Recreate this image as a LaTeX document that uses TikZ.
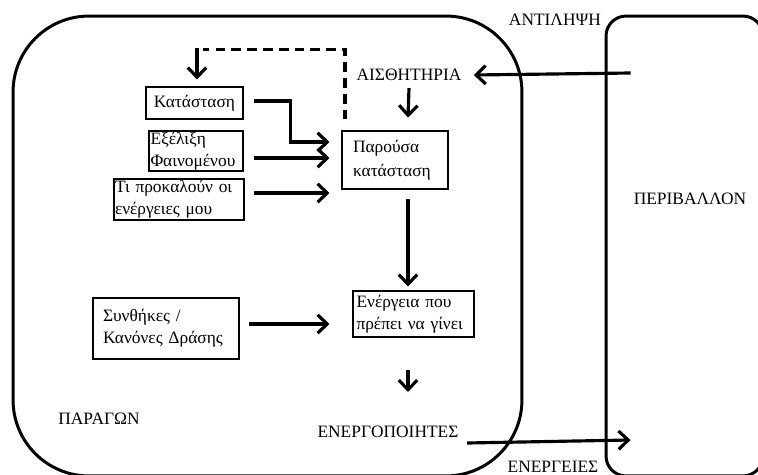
\documentclass[tikz,border=0pt]{standalone}
\usepackage{fontspec}
\setmainfont{Liberation Serif}
\usetikzlibrary{arrows.meta,calc}

\begin{document}
\begin{tikzpicture}[
  x=0.02cm, y=-0.02cm,
  font=\fontsize{9.9}{12.6}\selectfont,
  arr/.style={line width=1.8pt, -{Straight Barb[length=5.5pt,width=10.5pt,line width=1.8pt]}},
  frame/.style={draw, line width=1.7pt},
  box/.style={draw, line width=0.6pt, inner ysep=0pt, align=left},
  label/.style={inner sep=0pt}
]
\useasboundingbox (0,0) rectangle (758,474);

% agent and environment
\node[frame, rounded corners=1.52cm, minimum width=10.18cm, minimum height=9.2cm] (agent) at (267.5,246) {};
\node[frame, rounded corners=0.4cm, minimum width=3.14cm, minimum height=9.2cm] (envbox) at (684.5,246) {};

% text labels
\node[label] (ais) at (409,75) {ΑΙΣΘΗΤΗΡΙΑ};
\node[label] (antil) at (555,20) {ΑΝΤΙΛΗΨΗ};
\node[label] (act) at (388,432) {ΕΝΕΡΓΟΠΟΙΗΤΕΣ};
\node[label] (energ) at (553,467) {ΕΝΕΡΓΕΙΕΣ};
\node[label] (parag) at (99,419) {ΠΑΡΑΓΩΝ};
\node[label] (periv) at (690,199) {ΠΕΡΙΒΑΛΛΟΝ};

% boxes
\node[box, align=center, inner xsep=0pt, minimum width=1.94cm, minimum height=0.64cm] (kat) at (194.5,103) {Κατάσταση};
\node[box, inner xsep=0.03cm, text width=1.82cm, minimum height=0.8cm] (exe) at (196,151) {Εξέλιξη\\Φαινομένου};
\node[box, inner xsep=0.02cm, text width=2.56cm, minimum height=0.82cm] (tpr) at (179,199.5) {Τι προκαλούν οι\\ενέργειες μου};
\node[box, inner xsep=0.22cm, text width=1.68cm, minimum height=1.16cm, font=\fontsize{9.9}{13.6}\selectfont] (pk) at (395,160) {Παρούσα\\κατάσταση};
\node[box, inner xsep=0.07cm, text width=2.28cm, minimum height=0.92cm] (en) at (413.5,314) {Ενέργεια που\\πρέπει να γίνει};
\node[box, inner xsep=0.2cm, text width=2.52cm, minimum height=1.22cm] (syn) at (166,328.5) {Συνθήκες /\\Κανόνες Δράσης};

% connectors
\draw[arr] ($(envbox.west)+(26,-173)$) -- ($(ais.east)+(12,0)$);
\draw[arr] ($(ais.center)+(0,13)$) -- ($(pk.north)+(13,-13)$);
\draw[line width=1.8pt, dash pattern=on 5.5pt off 3.5pt] ($(pk.north)+(-50,-11)$) |- ($(kat.north)+(8,-37)$);
\draw[arr] ($(kat.north)+(2.5,-38)$) -- ($(kat.north)+(2.5,-7)$);
\draw[arr] ($(kat.east)+(10,-2)$) -| ($(pk.west)+(-51,-18)$) -- ($(pk.west)+(-12,-18)$);
\draw[arr] ($(exe.east)+(10,7)$) -- ($(pk.west)+(-12,-2)$);
\draw[arr] ($(tpr.east)+(9,-6.5)$) -- ($(pk.west)+(-12,33)$);
\draw[arr] ($(pk.south)+(13,9)$) -- ($(en.north)+(-5.5,-4)$);
\draw[arr] ($(syn.east)+(9,-4.5)$) -- ($(en.west)+(-23,10)$);
\draw[arr] ($(en.south)+(-5.5,32)$) -- ($(act.center)+(20,-40)$);
\draw[arr] ($(act.center)+(79,11)$) -- ($(envbox.west)+(26,194)$);
\end{tikzpicture}
\end{document}
